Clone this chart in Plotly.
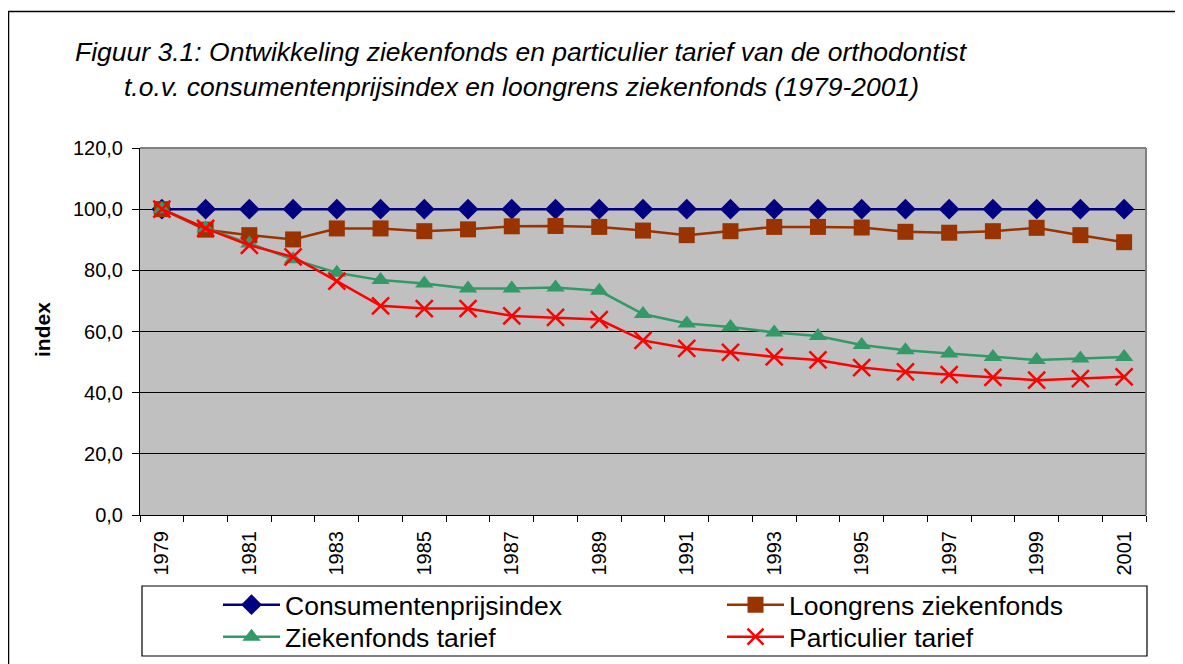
import plotly.graph_objects as go

years = list(range(1979, 2002))
cpi = [100.0] * 23
loongrens = [100.0, 93.3, 91.5, 90.1, 93.7, 93.7, 92.8, 93.4, 94.4, 94.5, 94.2, 93.0,
             91.5, 92.8, 94.2, 94.2, 94.0, 92.6, 92.3, 92.8, 93.9, 91.5, 89.2]
ziekenfonds = [100.0, 93.8, 88.8, 83.6, 79.2, 76.8, 75.7, 74.1, 74.1, 74.4, 73.3, 65.7,
               62.6, 61.5, 59.7, 58.5, 55.6, 53.9, 52.8, 51.7, 50.7, 51.2, 51.7]
particulier = [100.0, 93.7, 88.2, 84.4, 76.5, 68.4, 67.5, 67.5, 65.1, 64.6, 63.9, 57.1,
               54.5, 53.2, 51.7, 50.7, 48.2, 46.8, 45.9, 45.0, 44.1, 44.6, 45.2]
label_years = [str(y) for y in range(1979, 2002, 2)]

names = ["Consumentenprijsindex", "Loongrens ziekenfonds", "Ziekenfonds tarief", "Particulier tarief"]
title1 = "Figuur 3.1: Ontwikkeling ziekenfonds en particulier tarief van de orthodontist"
title2 = "t.o.v. consumentenprijsindex en loongrens ziekenfonds (1979-2001)"

FONT = "Arial, Liberation Sans, sans-serif"
OFF = 8  # page body margin
W, H = 1183 - OFF, 664 - OFF
L, R, T, B = 140 - OFF, 1146 - OFF, 148 - OFF, 515 - OFF
pw, ph = R - L, B - T


def px(x):
    """screen x (reference pixels) -> paper coordinate"""
    return (x - OFF - L) / pw


def py(y):
    """screen y (reference pixels) -> paper coordinate"""
    return (B - (y - OFF)) / ph


fig = go.Figure()
fig.add_trace(go.Scatter(x=years, y=cpi, name=names[0], mode="lines+markers",
                         line=dict(color="#000080", width=2.5),
                         marker=dict(symbol="diamond", size=16, color="#000080"),
                         legend="legend"))
fig.add_trace(go.Scatter(x=years, y=loongrens, name=names[1], mode="lines+markers",
                         line=dict(color="#993300", width=2.5),
                         marker=dict(symbol="square", size=16, color="#993300"),
                         legend="legend2"))
fig.add_trace(go.Scatter(x=years, y=ziekenfonds, name=names[2], mode="lines+markers",
                         line=dict(color="#339966", width=2.5),
                         marker=dict(symbol="triangle-up", size=16, color="#339966"),
                         legend="legend3"))
fig.add_trace(go.Scatter(x=years, y=particulier, name=names[3], mode="lines+markers",
                         line=dict(color="#FF0000", width=2.5),
                         marker=dict(symbol="x-thin", size=17, color="#FF0000",
                                     line=dict(color="#FF0000", width=2.5)),
                         legend="legend4"))

leg_common = dict(orientation="v", xanchor="left", yanchor="middle",
                  font=dict(family=FONT, size=26.5, color="black"),
                  bgcolor="rgba(0,0,0,0)", borderwidth=0, itemwidth=57,
                  tracegroupgap=0, itemclick=False, itemdoubleclick=False)

col1_x, col2_x = 218, 722
row1_y, row2_y = 605, 637

fig.update_layout(
    width=W, height=H,
    margin=dict(l=L, r=W - R, t=T, b=H - B, autoexpand=False),
    paper_bgcolor="white", plot_bgcolor="#C0C0C0",
    separators=", ",
    showlegend=True,
    legend=dict(x=px(col1_x), y=py(row1_y), **leg_common),
    legend2=dict(x=px(col2_x), y=py(row1_y), **leg_common),
    legend3=dict(x=px(col1_x), y=py(row2_y), **leg_common),
    legend4=dict(x=px(col2_x), y=py(row2_y), **leg_common),
    xaxis=dict(range=[1978.5, 2001.5], tickmode="array",
               tickvals=[int(v) for v in label_years], ticktext=label_years,
               tickangle=-90, ticks="", showgrid=False, zeroline=False,
               showline=True, linecolor="black", linewidth=1,
               ticklabelstandoff=7,
               tickfont=dict(family=FONT, size=20, color="black"),
               minor=dict(ticks="outside", tick0=1978.5, dtick=1, ticklen=6,
                          tickcolor="black", tickwidth=1, showgrid=False)),
    yaxis=dict(range=[0, 120], tickmode="linear", tick0=0, dtick=20, tickformat=".1f",
               ticks="outside", ticklen=7, tickcolor="black",
               showgrid=True, gridcolor="black", gridwidth=1, zeroline=False,
               showline=True, linecolor="black", linewidth=1,
               ticklabelstandoff=5,
               tickfont=dict(family=FONT, size=20, color="black")),
    shapes=[
        # outer chart frame
        dict(type="rect", xref="paper", yref="paper", x0=px(8.5), x1=px(1220),
             y0=py(720), y1=py(11.5), line=dict(color="black", width=1.5), layer="below"),
        # plot area border (top/right gray)
        dict(type="line", xref="paper", yref="paper", x0=0, x1=1, y0=1, y1=1,
             line=dict(color="#808080", width=2)),
        dict(type="line", xref="paper", yref="paper", x0=1, x1=1, y0=0, y1=1,
             line=dict(color="#808080", width=2)),
        # legend box
        dict(type="rect", xref="paper", yref="paper", x0=px(142), x1=px(1147),
             y0=py(656), y1=py(586), line=dict(color="black", width=1.2),
             fillcolor="white", layer="below"),
    ],
    annotations=[
        dict(text=title1, xref="paper", yref="paper", x=px(73), y=py(52),
             xanchor="left", yanchor="middle", showarrow=False,
             font=dict(family=FONT, size=26.5, color="black", style="italic")),
        dict(text=title2, xref="paper", yref="paper", x=px(122), y=py(87),
             xanchor="left", yanchor="middle", showarrow=False,
             font=dict(family=FONT, size=26.5, color="black", style="italic")),
        dict(text="<b>index</b>", xref="paper", yref="paper", x=px(42), y=py(330),
             xanchor="center", yanchor="middle", showarrow=False, textangle=-90,
             font=dict(family=FONT, size=21, color="black")),
    ],
)

fig.write_html("out.html")
